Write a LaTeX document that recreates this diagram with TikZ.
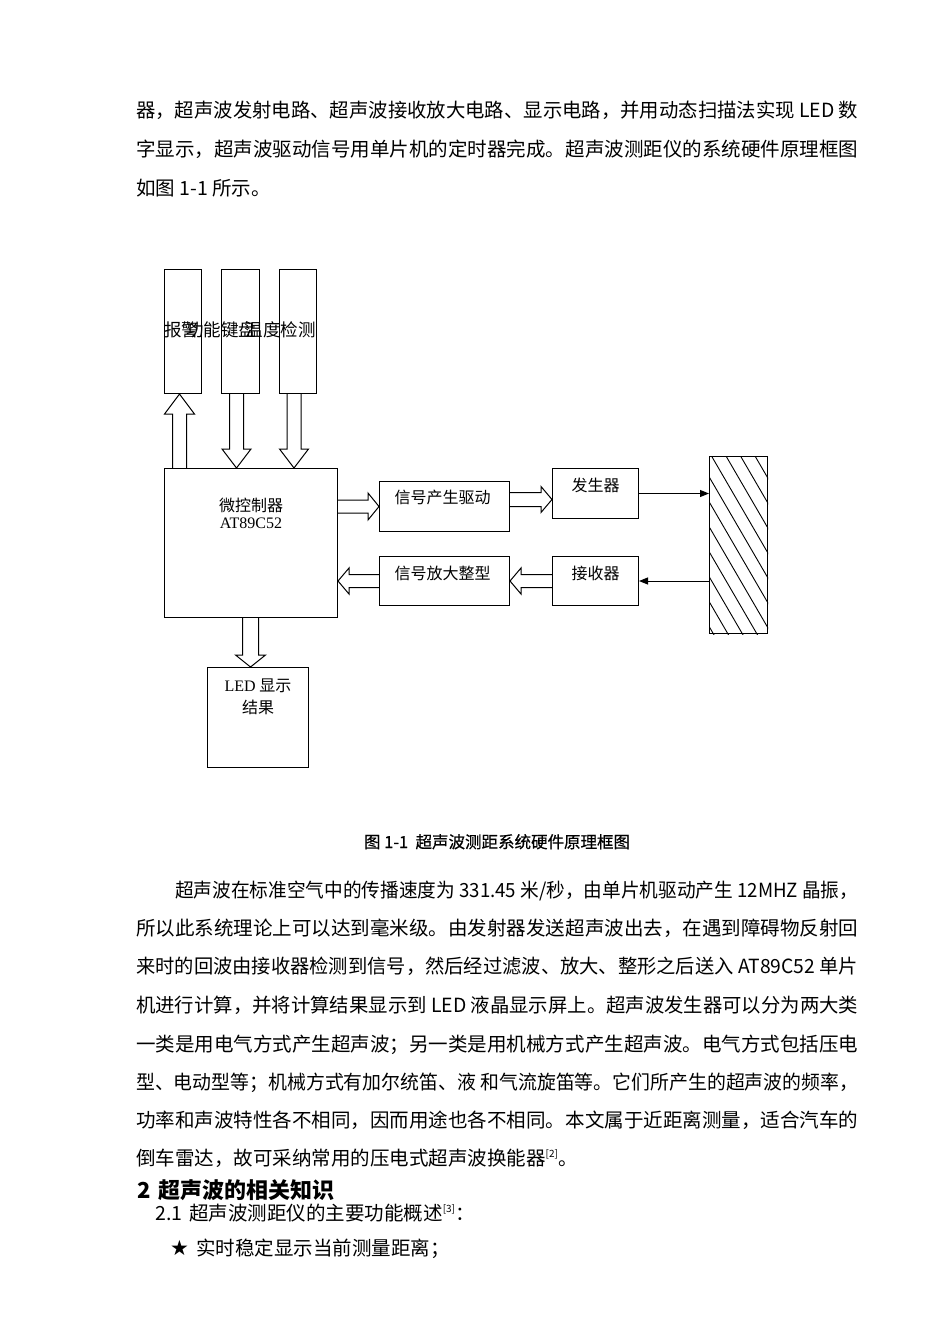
\documentclass[tikz,border=0pt]{standalone}
\usepackage{fontspec}
\usepackage{graphicx}
\setmainfont{Noto Sans CJK SC}
\newfontfamily\latinrm{Liberation Serif}
\newfontfamily\symbfont{DejaVu Sans}
\newfontfamily\capfont[FakeBold=0.6]{Noto Sans CJK SC}
\usetikzlibrary{positioning,calc,arrows.meta}
% a full text line brought to the measure width
\newcommand\fullline[2]{\resizebox{#1}{\height}{#2}}
% hollow block arrow: from, to, shaft half width, head half width, head length
\newcommand\hollowarrow[5]{%
  \draw[hollow] let \p1=#1, \p2=#2, \n1={atan2(\y2-\y1,\x2-\x1)},
    \n2={veclen(\x2-\x1,\y2-\y1)} in [shift={(\p1)}, rotate=\n1]
    (0,#3) -- (\n2-#5,#3) -- (\n2-#5,#4) -- (\n2,0) -- (\n2-#5,-#4)
    -- (\n2-#5,-#3) -- (0,-#3);}
\begin{document}
\begin{tikzpicture}[x=1pt, y=-1pt,
  box/.style={draw, line width=1pt, inner sep=0pt, anchor=north west},
  lbl/.style={font=\fontsize{16}{18}\selectfont, inner sep=0pt, anchor=base},
  toplbl/.style={font=\fontsize{17.5}{20}\selectfont, inner sep=0pt, anchor=base},
  hollow/.style={line width=1pt, line join=miter},
  thinarr/.style={line width=1pt, -{Triangle[length=9pt, width=7pt]}},
  body/.style={font=\fontsize{19.5}{24}\selectfont, inner sep=0pt, anchor=base west}]
  \useasboundingbox (0,0) rectangle (950,1344);

  % text above the figure
  \node[body] (p1a) at (136,117) {\fullline{722pt}{器，超声波发射电路、超声波接收放大电路、显示电路，并用动态扫描法实现 LED 数}};
  \node[body] (p1b) at (136,156) {\fullline{722pt}{字显示，超声波驱动信号用单片机的定时器完成。超声波测距仪的系统硬件原理框图}};
  \node[body] (p1c) at (136,195) {如图 1-1 所示。};

  % input / output units
  \node[box, minimum width=37pt, minimum height=124pt] (alarm) at (164,269) {};
  \node[box, minimum width=38pt, minimum height=124pt] (keypad) at (221,269) {};
  \node[box, minimum width=37pt, minimum height=124pt] (temp) at (279,269) {};
  \node[toplbl] (alarmtxt) at ([xshift=-1.5pt, yshift=-67.5pt]alarm.north) {报警};
  \node[toplbl] (keypadtxt) at ([xshift=-19.5pt, yshift=-67.5pt]keypad.north) {功能键盘};
  \node[toplbl] (temptxt) at ([xshift=-17.5pt, yshift=-67.5pt]temp.north) {温度检测};

  % main blocks
  \node[box, minimum width=173pt, minimum height=149pt] (mcu) at (164,468) {};
  \node[lbl] (mcutxt) at ([yshift=-43pt]mcu.north) {微控制器};
  \node[lbl] (mcutype) at ([yshift=-60pt]mcu.north) {\latinrm AT89C52};
  \node[box, minimum width=130pt, minimum height=50pt] (drive) at (379,481) {};
  \node[lbl] (drivetxt) at ([xshift=-2pt, yshift=-22pt]drive.north) {信号产生驱动};
  \node[box, minimum width=86pt, minimum height=50pt] (gen) at (552,468) {};
  \node[lbl] (gentxt) at ([yshift=-23pt]gen.north) {发生器};
  \node[box, minimum width=130pt, minimum height=49pt] (amp) at (379,556) {};
  \node[lbl] (amptxt) at ([xshift=-2pt, yshift=-23pt]amp.north) {信号放大整型};
  \node[box, minimum width=86pt, minimum height=49pt] (recv) at (552,556) {};
  \node[lbl] (recvtxt) at ([yshift=-23pt]recv.north) {接收器};
  \node[box, minimum width=101pt, minimum height=100pt] (led) at (207,667) {};
  \node[lbl] (ledtxt) at ([yshift=-24pt]led.north) {{\latinrm LED} 显示};
  \node[lbl] (ledtxt2) at ([yshift=-46pt]led.north) {结果};

  % obstacle
  \node[box, minimum width=58pt, minimum height=177pt] (wall) at (709,456) {};
  \begin{scope}
    \clip (wall.south west) rectangle (wall.north east);
    \foreach \k in {-13,...,4}
      \draw[line width=0.9pt] (711.5+14.5*\k,456) -- ++(120,206.4);
  \end{scope}

  % block arrows
  \coordinate (a1) at ([xshift=-3.5pt]alarm.south);
  \coordinate (k1) at ([xshift=-4pt]keypad.south);
  \coordinate (t1) at ([xshift=-4pt]temp.south);
  \coordinate (l1) at ([xshift=-7.5pt]led.north);
  \coordinate (d1) at ([yshift=7pt]drive.east);
  \hollowarrow{(mcu.north -| a1)}{(a1)}{7}{15}{20}
  \hollowarrow{(k1)}{(mcu.north -| k1)}{7}{14.5}{19}
  \hollowarrow{(t1)}{(mcu.north -| t1)}{7}{14.5}{19}
  \hollowarrow{(mcu.east |- drive.west)}{(drive.west)}{6.5}{13.5}{11}
  \hollowarrow{(d1)}{(gen.west |- d1)}{7}{13}{11}
  \hollowarrow{(amp.west)}{(mcu.east |- amp.west)}{6.5}{13}{11}
  \hollowarrow{(recv.west)}{(amp.east |- recv.west)}{6.5}{13}{11}
  \hollowarrow{(mcu.south -| l1)}{(l1)}{8}{15}{12}

  % ultrasonic path
  \draw[thinarr] (gen.east) -- (gen.east -| wall.west);
  \draw[thinarr] (recv.east -| wall.west) -- (recv.east);

  % caption
  \node[font=\capfont\fontsize{16.5}{18}\selectfont, inner sep=0pt, anchor=base] (caption) at (497,848) {图 1-1\ \ 超声波测距系统硬件原理框图};

  % text below the figure
  \node[body] (p2a) at (175,897) {\fullline{683pt}{超声波在标准空气中的传播速度为 331.45 米/秒，由单片机驱动产生 12MHZ 晶振，}};
  \node[body] (p2b) at (136,935) {\fullline{722pt}{所以此系统理论上可以达到毫米级。由发射器发送超声波出去，在遇到障碍物反射回}};
  \node[body] (p2c) at (136,973) {\fullline{722pt}{来时的回波由接收器检测到信号，然后经过滤波、放大、整形之后送入 AT89C52 单片}};
  \node[body] (p2d) at (136,1012) {\fullline{722pt}{机进行计算，并将计算结果显示到 LED 液晶显示屏上。超声波发生器可以分为两大类}};
  \node[body] (p2e) at (136,1051) {\fullline{722pt}{一类是用电气方式产生超声波；另一类是用机械方式产生超声波。电气方式包括压电}};
  \node[body] (p2f) at (136,1089) {\fullline{722pt}{型、电动型等；机械方式有加尔统笛、液 和气流旋笛等。它们所产生的超声波的频率，}};
  \node[body] (p2g) at (136,1127) {\fullline{722pt}{功率和声波特性各不相同，因而用途也各不相同。本文属于近距离测量，适合汽车的}};
  \node[body] (p2h) at (136,1165) {倒车雷达，故可采纳常用的压电式超声波换能器\textsuperscript{\fontsize{10}{10}\selectfont[2]}。};

  % section heading and list
  \node[body, font=\fontsize{22}{26}\selectfont\bfseries] (sec) at (137,1198) {2\hspace{8pt}超声波的相关知识};
  \node[body] (subsec) at (155,1220) {2.1\hspace{7pt}超声波测距仪的主要功能概述\textsuperscript{\fontsize{10}{10}\selectfont[3]}：};
  \node[body] (item1) at (170,1255) {{\symbfont\fontsize{21}{24}\selectfont ★}\hspace{7pt}实时稳定显示当前测量距离；};
\end{tikzpicture}
\end{document}
